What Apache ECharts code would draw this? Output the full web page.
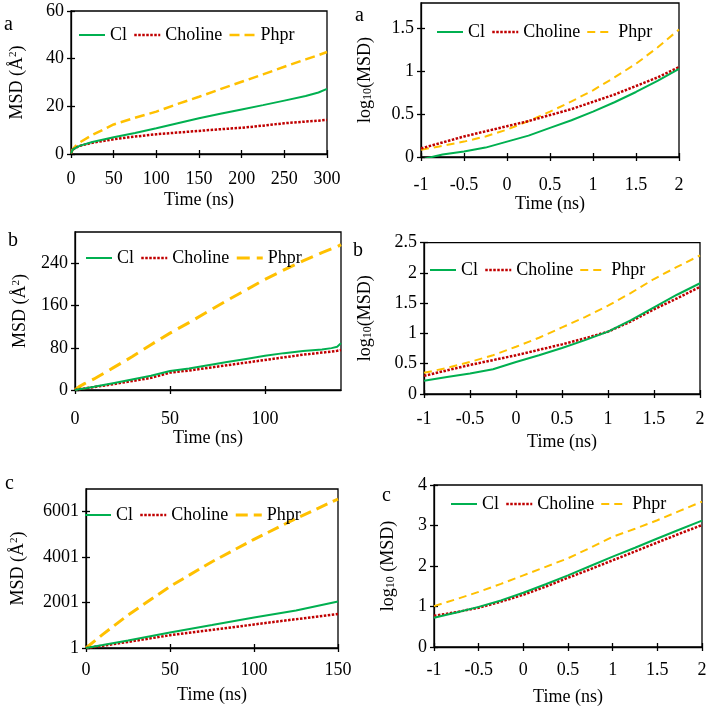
<!DOCTYPE html>
<html>
<head>
<meta charset="utf-8">
<script src="https://cdn.jsdelivr.net/npm/echarts@6/dist/echarts.min.js"></script>
<style>html,body{margin:0;padding:0;background:#fff}#c{width:708px;height:706px}</style>
</head>
<body>
<div id="c"></div>
<script>
// ---------- data ----------
const seriesNames = ['Cl', 'Choline', 'Phpr'];

// Panel a (linear)
const timeA = [0, 2, 5, 10, 25, 50, 75, 100, 125, 150, 175, 200, 225, 250, 275, 290, 300];
const clA = [0.3, 1.8, 2.5, 3.4, 5.0, 7.0, 8.8, 10.8, 12.9, 15.0, 16.9, 18.7, 20.5, 22.4, 24.3, 25.8, 27.3];
const cholineA = [0.3, 1.8, 2.5, 3.4, 4.7, 6.2, 7.3, 8.3, 9.0, 9.7, 10.4, 11.0, 11.9, 12.9, 13.6, 14.0, 14.3];
const phprA = [0.3, 2.0, 3.2, 4.8, 8.0, 12.4, 15.2, 17.8, 21.0, 24.0, 27.2, 30.3, 33.4, 36.6, 39.7, 41.5, 42.8];

// Panel a (log)
const logTime = [-1, -0.75, -0.5, -0.25, 0, 0.25, 0.5, 0.75, 1, 1.25, 1.5, 1.75, 2];
const clALog = [-0.03, 0.03, 0.065, 0.11, 0.18, 0.25, 0.34, 0.43, 0.53, 0.64, 0.76, 0.89, 1.03];
const cholineALog = [0.10, 0.17, 0.24, 0.30, 0.36, 0.42, 0.49, 0.56, 0.645, 0.73, 0.83, 0.93, 1.05];
const phprALog = [0.085, 0.13, 0.18, 0.24, 0.32, 0.42, 0.53, 0.65, 0.78, 0.93, 1.09, 1.28, 1.49];

// Panel b (linear)
const timeB = [0, 2, 5, 10, 20, 30, 40, 50, 60, 70, 80, 90, 100, 110, 120, 130, 135, 138, 140];
const clB = [0, 1.5, 3, 6, 13, 20, 27, 36, 41, 47, 53, 59, 65, 70, 74, 77, 79.5, 82, 89];
const cholineB = [0, 1.5, 3, 5.5, 11, 17, 23, 33, 37, 42, 47, 52, 57, 62, 67, 71, 73, 74.5, 76];
const phprB = [0, 6, 12, 21, 42, 63, 86, 108, 128, 149, 170, 190, 210, 228, 245, 261, 268, 272, 276];

// Panel b (log)
const clBLog = [0.22, 0.28, 0.34, 0.41, 0.53, 0.64, 0.76, 0.89, 1.03, 1.22, 1.43, 1.64, 1.83];
const cholineBLog = [0.30, 0.39, 0.48, 0.56, 0.64, 0.73, 0.82, 0.92, 1.03, 1.20, 1.40, 1.58, 1.77];
const phprBLog = [0.35, 0.43, 0.53, 0.64, 0.78, 0.93, 1.10, 1.27, 1.46, 1.67, 1.90, 2.10, 2.29];

// Panel c (linear)
const timeC = [0, 10, 25, 50, 75, 100, 125, 150];
const clC = [1, 130, 330, 682, 1010, 1348, 1650, 2045];
const cholineC = [1, 100, 270, 563, 800, 1037, 1270, 1496];
const phprC = [1, 600, 1450, 2711, 3800, 4785, 5700, 6560];

// Panel c (log)
const clCLog = [0.72, 0.85, 0.99, 1.15, 1.34, 1.55, 1.77, 2.00, 2.23, 2.45, 2.68, 2.90, 3.12];
const cholineCLog = [0.77, 0.86, 0.97, 1.12, 1.29, 1.49, 1.71, 1.92, 2.14, 2.36, 2.58, 2.80, 3.01];
const phprCLog = [1.01, 1.18, 1.36, 1.56, 1.77, 1.98, 2.19, 2.45, 2.72, 2.92, 3.13, 3.36, 3.59];

// tick labels
const xTicksA = [0, 50, 100, 150, 200, 250, 300];
const xTicksB = [0, 50, 100];
const xTicksC = [0, 50, 100, 150];
const xTicksLog = [-1, -0.5, 0, 0.5, 1, 1.5, 2];
const yTicksA = [0, 20, 40, 60];
const yTicksALog = [0, 0.5, 1, 1.5];
const yTicksB = [0, 80, 160, 240];
const yTicksBLog = [0, 0.5, 1, 1.5, 2, 2.5];
const yTicksC = [1, 2001, 4001, 6001];
const yTicksCLog = [0, 1, 2, 3, 4];
const panelLetters = ['a', 'a', 'b', 'b', 'c', 'c'];

// ---------- styles / layout ----------
const FONT = '"Liberation Serif", "Times New Roman", serif';
const GREEN = '#00B050', RED = '#C00000', ORANGE = '#FFC000';
const msdName = 'MSD (Å{sup|2})';
const logName = 'log{sub|10}(MSD)';
const logNameSp = 'log{sub|10} (MSD)';

const panels = [
  {grid:[71,11,256,143], x:[0,300], y:[0,60], xt:xTicksA, yt:yTicksA, t:timeA, d:[clA,cholineA,phprA], yn:msdName, ynGap:45, xnGap:37, xm:16,
   legend:[78,26], dash:[10,5], dw:2.5, letter:[10,28]},
  {grid:[421,3,258,154], x:[-1,2], y:[0,1.8], xt:xTicksLog, yt:yTicksALog, t:logTime, d:[clALog,cholineALog,phprALog], yn:logName, ynGap:47, xnGap:33, xm:19,
   legend:[436,23], dash:[8,5], dw:2, letter:[361,19]},
  {grid:[75,232,266,158], x:[0,140], y:[0,300], xt:xTicksB, yt:yTicksB, t:timeB, d:[clB,cholineB,phprB], yn:msdName, ynGap:46, xnGap:38, xm:20,
   legend:[85,249], dash:[13,7], dw:3, letter:[14,244]},
  {grid:[424,242.7,276,151.3], x:[-1,2], y:[0,2.5], xt:xTicksLog, yt:yTicksBLog, t:logTime, d:[clBLog,cholineBLog,phprBLog], yn:logName, ynGap:50, xnGap:39, xm:16,
   legend:[429,261], dash:[8,5], dw:2, letter:[359,254]},
  {grid:[86,489,252,159], x:[0,150], y:[1,7001], xt:xTicksC, yt:yTicksC, t:timeC, d:[clC,cholineC,phprC], yn:msdName, ynGap:59, xnGap:38, xm:13,
   legend:[84,506], dash:[12,6], dw:3, letter:[11,487]},
  {grid:[434,485,268,162], x:[-1,2], y:[0,4], xt:xTicksLog, yt:yTicksCLog, t:logTime, d:[clCLog,cholineCLog,phprCLog], yn:logNameSp, ynGap:37, xnGap:41, xm:14,
   legend:[450,495], dash:[8,5], dw:2, letter:[388,499]}
];

const nameRich = {
  sup: {fontFamily: FONT, fontSize: 11, fontWeight: 'normal', color: '#000', verticalAlign: 'top', padding: [0, 0, 6, 0]},
  sub: {fontFamily: FONT, fontSize: 12, fontWeight: 'normal', color: '#000', verticalAlign: 'bottom', padding: [6, 0, 0, 0]}
};
const axisLineStyle = {color: '#000', width: 1.3};
const txt = {color: '#000', fontFamily: FONT, fontSize: 18, fontWeight: 'normal'};
const plain = v => String(v);

const option = {
  animation: false,
  backgroundColor: '#fff',
  textStyle: {fontFamily: FONT, color: '#000'},
  grid: [], xAxis: [], yAxis: [], series: [], legend: [], graphic: []
};

panels.forEach((p, i) => {
  option.grid.push({left: p.grid[0], top: p.grid[1], width: p.grid[2], height: p.grid[3],
    show: true, borderColor: '#000', borderWidth: 1.3, backgroundColor: 'transparent', outerBoundsMode: 'none', containLabel: false});
  const xi = option.xAxis.length, yi = option.yAxis.length;
  option.xAxis.push({
    gridIndex: i, type: 'value', min: p.x[0], max: p.x[1], position: 'bottom',
    axisLine: {show: true, onZero: false, lineStyle: axisLineStyle},
    axisTick: {show: true, inside: false, length: 4, customValues: p.xt, lineStyle: axisLineStyle},
    axisLabel: Object.assign({show: true, customValues: p.xt, margin: p.xm, formatter: plain}, txt),
    splitLine: {show: false},
    name: 'Time (ns)', nameLocation: 'middle', nameGap: p.xnGap,
    nameTextStyle: Object.assign({}, txt)
  });
  option.xAxis.push({
    gridIndex: i, type: 'value', min: p.x[0], max: p.x[1], position: 'bottom',
    axisLine: {show: false, onZero: false},
    axisTick: {show: true, inside: true, length: 4, customValues: p.xt, lineStyle: axisLineStyle},
    axisLabel: {show: false}, splitLine: {show: false}
  });
  option.yAxis.push({
    gridIndex: i, type: 'value', min: p.y[0], max: p.y[1], position: 'left',
    axisLine: {show: true, onZero: false, lineStyle: axisLineStyle},
    axisTick: {show: true, inside: false, length: 4, customValues: p.yt, lineStyle: axisLineStyle},
    axisLabel: Object.assign({show: true, customValues: p.yt, margin: 7, formatter: plain}, txt),
    splitLine: {show: false},
    name: p.yn, nameLocation: 'middle', nameGap: p.ynGap,
    nameTextStyle: Object.assign({rich: nameRich}, txt)
  });
  option.yAxis.push({
    gridIndex: i, type: 'value', min: p.y[0], max: p.y[1], position: 'left',
    axisLine: {show: false, onZero: false},
    axisTick: {show: true, inside: true, length: 4, customValues: p.yt, lineStyle: axisLineStyle},
    axisLabel: {show: false}, splitLine: {show: false}
  });
  const styles = [
    {color: GREEN, width: 2, type: 'solid'},
    {color: RED, width: 2.5, type: [2.5, 1.5], cap: 'butt'},
    {color: ORANGE, width: p.dw, type: p.dash, cap: 'butt'}
  ];
  seriesNames.forEach((nm, k) => {
    option.series.push({
      type: 'line', name: nm, xAxisIndex: xi, yAxisIndex: yi,
      data: p.t.map((t, j) => [t, p.d[k][j]]),
      showSymbol: false, symbol: 'none', smooth: false, clip: true,
      lineStyle: styles[k], itemStyle: {color: styles[k].color}, z: 5 - k
    });
  });
  option.legend.push({
    left: p.legend[0], top: p.legend[1], orient: 'horizontal', padding: 0,
    itemWidth: 26, itemHeight: 14, itemGap: 6, selectedMode: false,
    textStyle: Object.assign({}, txt),
    data: seriesNames.map((nm, k) => ({name: nm, lineStyle: styles[k], itemStyle: {color: styles[k].color, opacity: 0},
      textStyle: Object.assign({}, txt)}))
  });
  option.graphic.push({
    type: 'text', left: p.letter[0] - 6, top: p.letter[1] - 13,
    style: {text: panelLetters[i], fill: '#000', font: '20px "Liberation Serif"'}
  });
});

const chart = echarts.init(document.getElementById('c'), null, {renderer: 'canvas'});
chart.setOption(option);
</script>
</body>
</html>
